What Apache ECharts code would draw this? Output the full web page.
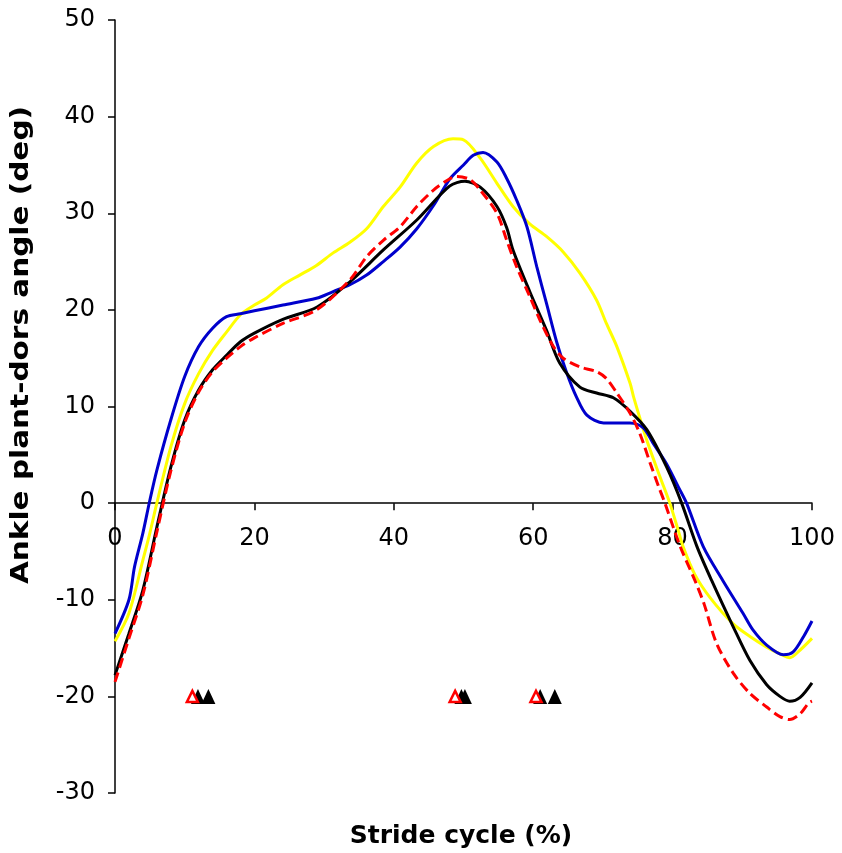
<!DOCTYPE html>
<html>
<head>
<meta charset="utf-8">
<script src="https://cdn.jsdelivr.net/npm/echarts@6/dist/echarts.min.js"></script>
<style>html,body{margin:0;padding:0;background:#fff}#c{width:842px;height:853px}</style>
</head>
<body>
<div id="c"></div>
<script>
// ---- data (stride cycle %, ankle angle deg) ----
const xTicks = [0, 20, 40, 60, 80, 100];
const yTicks = [-30, -20, -10, 0, 10, 20, 30, 40, 50];

const yellowLine = [[0,-14.3],[2,-11.4],[4,-5.9],[5,-3.1],[6,0],[8,5.8],[10,10.3],[12,13.4],[14,15.8],[16,17.7],[18,19.5],[20,20.5],[21.7,21.2],[24.1,22.6],[26.5,23.6],[28.9,24.6],[31.3,25.9],[33.7,27.0],[36.1,28.4],[38.5,30.7],[40.9,32.7],[43.3,35.2],[45.7,36.9],[48.5,37.7],[50,37.6],[52.4,35.7],[54.8,33.1],[57.1,30.7],[59.5,28.9],[61.9,27.6],[64.3,26.0],[66.7,23.8],[69.1,21.0],[70.5,18.6],[72.0,16.2],[73.9,12.4],[74.4,11.0],[76.3,6.5],[78.2,2.7],[79.6,0],[80.8,-2.8],[81.5,-4.5],[83.2,-7.4],[85.4,-9.8],[88.7,-12.5],[91.1,-13.8],[93.5,-14.9],[95.4,-15.6],[96.8,-16.0],[98.3,-15.2],[100,-14.0]];

const blueLine = [[0,-13.5],[2,-10.0],[2.8,-6.6],[4,-3.1],[5,0.3],[6,3.4],[8,8.6],[10,13.1],[12,16.2],[14,18.1],[16,19.3],[18,19.6],[20,19.9],[24.1,20.5],[28.9,21.2],[31.3,21.9],[33.7,22.6],[36.1,23.6],[38.5,25.0],[40.9,26.5],[43.3,28.4],[45.7,30.8],[48.1,33.6],[50.0,35.0],[51.4,36.0],[52.8,36.3],[54.8,35.3],[56.2,33.6],[57.6,31.4],[59.1,28.6],[60.5,24.5],[61.9,20.7],[63.4,16.6],[64.8,13.5],[66.2,11.0],[67.7,9.1],[70.1,8.3],[73.9,8.3],[75.8,7.8],[77.2,6.2],[79.1,4.1],[80.8,1.7],[82.0,0],[84.4,-4.5],[87.2,-8.0],[90.1,-11.4],[91.5,-13.1],[93.5,-14.7],[95.9,-15.7],[97.3,-15.4],[98.8,-13.8],[100,-12.2]];

const blackLine = [[0,-17.8],[2,-13.5],[4,-9.0],[6,-2.5],[8,3.7],[10,8.6],[12,11.7],[14,13.8],[16,15.3],[18,16.7],[20,17.6],[24,19.0],[29,20.3],[33.7,22.9],[38.5,26.2],[43.3,29.3],[48,32.8],[50.2,33.3],[52.4,32.7],[54.8,30.7],[56.2,28.5],[57.1,26.2],[59.5,21.9],[61.9,17.9],[63.8,14.5],[66.7,12.0],[69.1,11.4],[71.5,10.9],[73.9,9.5],[76.3,7.6],[79.1,3.8],[81.3,0],[83.5,-4.5],[85.6,-8.0],[88.7,-12.8],[91.1,-16.3],[93.5,-18.8],[95.4,-20.0],[96.8,-20.5],[98.3,-20.1],[100,-18.6]];

const redLine = [[0,-18.5],[2,-14.0],[4,-9.5],[6,-3.0],[8,3.3],[10,8.3],[12,11.5],[14,13.6],[16,15.0],[18,16.2],[20,17.1],[24.1,18.6],[28.9,20.0],[33.7,23.1],[36.1,25.5],[38.5,27.2],[40.9,28.6],[43.3,30.7],[45.7,32.4],[48.1,33.6],[49.0,33.8],[50.9,33.5],[52.4,32.4],[54.8,30.0],[56.2,27.2],[57.6,24.5],[59.5,21.4],[61.0,18.9],[62.9,16.2],[64.3,15.0],[66.7,14.1],[69.1,13.6],[70.5,12.9],[72.0,11.4],[73.9,9.3],[75.3,7.2],[76.8,4.1],[78.0,1.7],[78.9,0],[81.1,-4.5],[83.2,-8.0],[84.5,-10.4],[86.3,-14.5],[88.7,-17.6],[91.1,-19.7],[93.5,-21.1],[95.4,-22.1],[96.8,-22.4],[98.3,-21.8],[99.5,-20.7],[100,-20.5]];

const blackEventsX = [11.9, 13.4, 49.7, 50.2, 61.0, 63.1];
const redEventsX = [11.1, 48.8, 60.4];
const eventY = -20;

const xTitle = 'Stride cycle (%)';
const yTitle = 'Ankle plant-dors angle (deg)';

// ---- layout ----
const W = 842, H = 853;
const G = {left: 115, right: 30, top: 20, bottom: 60};
const yMin = yTicks[0], yMax = yTicks[yTicks.length - 1];
const gridH = H - G.top - G.bottom;
// move the x axis from the grid bottom up to the y = 0 line
const xAxisOffset = -gridH * (0 - yMin) / (yMax - yMin);

const FONT = 'DejaVu Sans';
const chart = echarts.init(document.getElementById('c'), null, {renderer: 'canvas'});
const lineSeries = (data, color, dashed) => ({
  type: 'line', data, showSymbol: false, symbol: 'none', smooth: 0.3,
  lineStyle: {color, width: 3, type: dashed ? [10, 5] : 'solid'},
  z: 2, animation: false
});
chart.setOption({
  animation: false,
  backgroundColor: '#fff',
  grid: {left: G.left, right: G.right, top: G.top, bottom: G.bottom, containLabel: false},
  xAxis: {
    type: 'value', min: xTicks[0], max: xTicks[xTicks.length - 1], interval: 20,
    position: 'bottom', offset: xAxisOffset,
    axisLine: {onZero: false, lineStyle: {color: '#000', width: 1.5}},
    axisTick: {show: true, inside: false, length: 7, lineStyle: {color: '#000', width: 1.5}},
    axisLabel: {margin: 24, fontSize: 24, color: '#000', fontFamily: FONT},
    splitLine: {show: false}
  },
  yAxis: {
    type: 'value', min: yMin, max: yMax, interval: 10,
    axisLine: {show: true, onZero: false, lineStyle: {color: '#000', width: 1.5}},
    axisTick: {show: true, inside: false, length: 7, lineStyle: {color: '#000', width: 1.5}},
    axisLabel: {margin: 20, fontSize: 24, color: '#000', fontFamily: FONT},
    splitLine: {show: false}
  },
  graphic: [
    {type: 'text', x: 461, y: 836,
     style: {text: xTitle, font: 'bold 25px "DejaVu Sans"', fill: '#000', align: 'center', verticalAlign: 'middle'}},
    {type: 'text', x: 22, y: 345, rotation: Math.PI / 2, scaleX: 1.23, scaleY: 1,
     style: {text: yTitle, font: 'bold 24px "DejaVu Sans"', fill: '#000', align: 'center', verticalAlign: 'middle'}}
  ],
  series: [
    lineSeries(yellowLine, '#FFFF00', false),
    lineSeries(blueLine, '#0000CC', false),
    lineSeries(blackLine, '#000000', false),
    lineSeries(redLine, '#FF0000', true),
    {type: 'scatter', data: blackEventsX.map(x => [x, eventY]), symbol: 'triangle', symbolSize: [14, 15],
     itemStyle: {color: '#000', opacity: 1}, z: 3, animation: false},
    {type: 'scatter', data: redEventsX.map(x => [x, eventY]), symbol: 'triangle', symbolSize: [11, 11],
     itemStyle: {color: '#fff', borderColor: '#FF0000', borderWidth: 2.5, opacity: 1}, z: 4, animation: false}
  ]
});
</script>
</body>
</html>
